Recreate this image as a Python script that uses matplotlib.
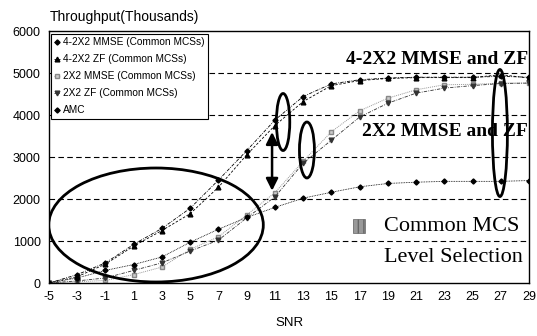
import matplotlib
matplotlib.use("Agg")
import matplotlib.pyplot as plt
from matplotlib.patches import Ellipse, Rectangle

snr = [-5, -3, -1, 1, 3, 5, 7, 9, 11, 13, 15, 17, 19, 21, 23, 25, 27, 29]
mmse_4_2x2 = [0, 200, 480, 920, 1300, 1780, 2450, 3150, 3880, 4440, 4740, 4840, 4880, 4900, 4900, 4900, 4920, 4900]
zf_4_2x2 = [0, 150, 450, 880, 1250, 1650, 2280, 3050, 3750, 4320, 4700, 4820, 4870, 4890, 4890, 4890, 4960, 4880]
mmse_2x2 = [0, 30, 60, 200, 380, 800, 1100, 1620, 2150, 2900, 3600, 4100, 4400, 4600, 4720, 4730, 4760, 4760]
zf_2x2 = [0, 50, 120, 300, 480, 760, 1020, 1550, 2050, 2850, 3400, 3950, 4280, 4520, 4640, 4700, 4750, 4760]
amc = [0, 120, 300, 440, 620, 970, 1280, 1560, 1800, 2020, 2160, 2290, 2370, 2400, 2420, 2420, 2420, 2440]

labels = ["4-2X2 MMSE (Common MCSs)", "4-2X2 ZF (Common MCSs)", "2X2 MMSE (Common MCSs)",
          "2X2 ZF (Common MCSs)", "AMC"]
yticks = [0, 1000, 2000, 3000, 4000, 5000, 6000]

plt.rcParams['font.family'] = ['Liberation Sans', 'DejaVu Sans']
plt.rcParams['axes.unicode_minus'] = False

fig = plt.figure(figsize=(5.37, 3.36), dpi=100)
ax = fig.add_axes([49/537, 1-283/336, 480/537, 252/336])

ax.plot(snr, mmse_4_2x2, color='black', lw=0.6, ls=(0, (4, 1.5, 1, 1.5)), marker='D', ms=2.6, label=labels[0])
ax.plot(snr, zf_4_2x2, color='black', lw=0.6, ls=(0, (3, 2)), marker='^', ms=3.4, label=labels[1])
ax.plot(snr, mmse_2x2, color='#999999', lw=0.7, ls=(0, (1, 1)), marker='s', ms=3,
        markerfacecolor='#cccccc', markeredgecolor='#888888', label=labels[2])
ax.plot(snr, zf_2x2, color='#333333', lw=0.6, ls=(0, (4, 1.5, 1, 1.5)), marker='v', ms=3.4, label=labels[3])
ax.plot(snr, amc, color='black', lw=0.6, ls=(0, (1, 1)), marker='D', ms=2.6, label=labels[4])

ax.set_xlim(-5, 29)
ax.set_ylim(0, 6000)
ax.set_xticks(snr)
ax.set_yticks(yticks)
ax.tick_params(axis='both', length=0, labelsize=9, pad=6)
for y in yticks[1:-1]:
    ax.axhline(y, color='black', lw=0.8, ls=(0, (5, 3)), zorder=0)
for s in ax.spines.values():
    s.set_linewidth(1.0)
    s.set_color('black')

ax.set_xlabel('SNR', fontsize=9.5, labelpad=10)
fig.text(50/537, 1-17/336, 'Throughput(Thousands)', fontsize=10, va='center', ha='left')

leg = ax.legend(loc='upper left', bbox_to_anchor=(0.004, 0.99), fontsize=7.3, frameon=True,
                fancybox=False, edgecolor='black', framealpha=1, handlelength=0.5,
                handletextpad=0.3, labelspacing=0.7, borderpad=0.35, borderaxespad=0)
leg.get_frame().set_linewidth(0.8)

# annotations
ax.text(0.998, 0.885, '4-2X2 MMSE and ZF', transform=ax.transAxes, ha='right', va='center',
        fontsize=14, fontweight='bold', family='Liberation Serif')
ax.text(0.998, 0.603, '2X2 MMSE and ZF', transform=ax.transAxes, ha='right', va='center',
        fontsize=14, fontweight='bold', family='Liberation Serif')
ax.text(0.98, 0.226, 'Common MCS', transform=ax.transAxes, ha='right', va='center',
        fontsize=16, family='Liberation Serif')
ax.text(0.988, 0.1, 'Level Selection', transform=ax.transAxes, ha='right', va='center',
        fontsize=16, family='Liberation Serif')
ax.add_patch(Rectangle((0.633, 0.2), 0.025, 0.055, transform=ax.transAxes,
                       facecolor='#999999', edgecolor='#666666', hatch='|||', lw=0.5))

ell_kw = dict(fill=False, edgecolor='black', lw=2.0, zorder=5)
ax.add_patch(Ellipse((2.58, 1381), 15.2, 2714, **ell_kw))
ax.add_patch(Ellipse((11.58, 3833), 0.95, 1357, **ell_kw))
ax.add_patch(Ellipse((13.27, 3167), 1.06, 1333, **ell_kw))
ax.add_patch(Ellipse((26.94, 3571), 1.06, 3024, **ell_kw))

ax.annotate('', xy=(10.8, 3660), xytext=(10.8, 2130),
            arrowprops=dict(arrowstyle='<|-|>', color='black', lw=1.8, mutation_scale=18), zorder=6)

fig.savefig('out.png', dpi=100)
